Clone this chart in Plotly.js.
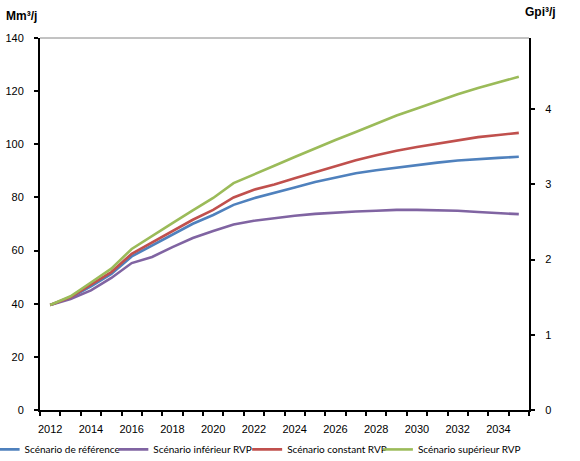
<!DOCTYPE html>
<html>
<head>
<meta charset="utf-8">
<script src="https://cdn.plot.ly/plotly-3.0.1.min.js"></script>
<style>html,body{margin:0;padding:0;background:#fff;}#chart{width:580px;height:461px;}</style>
</head>
<body>
<div id="chart"></div>
<script>
const years = [2012,2013,2014,2015,2016,2017,2018,2019,2020,2021,2022,2023,2024,2025,2026,2027,2028,2029,2030,2031,2032,2033,2034,2035];
const reference = [39.5,42.3,46.5,51.2,57.8,61.8,66.0,70.1,73.4,77.2,79.7,81.6,83.7,85.8,87.5,89.1,90.2,91.2,92.3,93.1,93.9,94.5,94.9,95.3];
const inferior  = [39.5,41.8,45.0,49.7,55.3,57.6,61.3,64.7,67.4,69.8,71.2,72.2,73.1,73.8,74.3,74.7,75.0,75.3,75.3,75.2,75.0,74.5,74.1,73.7];
const constant  = [39.5,42.5,47.2,51.9,58.8,63.1,67.2,71.6,75.3,80.0,82.9,84.9,87.2,89.5,91.6,94.0,95.9,97.6,99.0,100.3,101.5,102.7,103.5,104.3];
const superior  = [39.5,42.8,48.0,53.2,60.6,65.3,70.3,75.1,79.8,85.4,88.8,91.9,95.2,98.5,101.6,104.6,107.8,110.8,113.5,116.2,118.8,121.2,123.4,125.4];
const seriesNames = ["Scénario de référence","Scénario inférieur RVP","Scénario constant RVP","Scénario supérieur RVP"];
const yTicks = [0,20,40,60,80,100,120,140];
const y2Ticks = [0,1,2,3,4];
const xLabels = [2012,2014,2016,2018,2020,2022,2024,2026,2028,2030,2032,2034];
const m3ToFt3 = 35.3147/1000;

const colors = ["#4F81BD","#8064A2","#C0504D","#9BBB59"];
const legendIds = ['legend','legend2','legend3','legend4'];
const data = [reference, inferior, constant, superior].map((vals,i)=>({
  x: years, y: vals, type:'scatter', mode:'lines', name: seriesNames[i], legend: legendIds[i],
  line:{color:colors[i], width:2.6}, hoverinfo:'skip'
}));
// helper empty traces so the secondary axes are drawn
data.push({x:[], y:[], yaxis:'y2', type:'scatter', showlegend:false, hoverinfo:'skip'});
data.push({x:[], y:[], xaxis:'x2', type:'scatter', showlegend:false, hoverinfo:'skip'});

const fam = '"Liberation Sans", Arial, sans-serif';
const font = {family:fam, size:11, color:'#000'};
function leg(x){
  return {orientation:'h', x:x, xanchor:'left', y:-0.067, yanchor:'top',
    font:{family:'Lato, "Liberation Sans", sans-serif', size:10, color:'#000'},
    itemwidth:30, bgcolor:'rgba(0,0,0,0)', borderwidth:0};
}
const layout = {
  width:580, height:461,
  margin:{l:39.5, r:50.7, t:38, b:50.5, pad:0, autoexpand:false},
  paper_bgcolor:'#fff', plot_bgcolor:'#fff',
  font: font,
  showlegend:true,
  legend: leg(-0.1133), legend2: leg(0.150), legend3: leg(0.4236), legend4: leg(0.691),
  xaxis:{range:[2011.5,2035.5], tickmode:'array', tickvals:xLabels, ticktext:xLabels.map(String),
    ticks:'', showgrid:false, zeroline:false, showline:true, linecolor:'#000', linewidth:2,
    tickfont:font, ticklabelstandoff:8},
  xaxis2:{overlaying:'x', range:[2011.5,2035.5], tickmode:'linear', tick0:2011.5, dtick:1,
    ticks:'outside', ticklen:5, tickwidth:2, tickcolor:'#000', showticklabels:false, showgrid:false,
    zeroline:false, showline:false, side:'bottom', anchor:'y'},
  yaxis:{range:[0,140], tickmode:'array', tickvals:yTicks, ticks:'outside', ticklen:4, tickwidth:2,
    tickcolor:'#000', showgrid:false, zeroline:false, showline:true, linecolor:'#000', linewidth:2,
    tickfont:font, ticklabelstandoff:8},
  yaxis2:{overlaying:'y', side:'right', range:[0,140*m3ToFt3], tickmode:'array', tickvals:y2Ticks,
    ticks:'outside', ticklen:4, tickwidth:2, tickcolor:'#000', showgrid:false, zeroline:false,
    showline:true, linecolor:'#000', linewidth:2, tickfont:font, ticklabelstandoff:8},
  shapes:[{type:'line', xref:'paper', yref:'paper', x0:0, x1:1, y0:1, y1:1, line:{color:'#868686', width:1}}],
  annotations:[
    {text:'<b>Mm³/j</b>', xref:'paper', yref:'paper', x:-0.0745, y:1.06, xanchor:'left', yanchor:'middle', showarrow:false,
     font:{family:fam, size:12, color:'#000'}},
    {text:'<b>Gpi³/j</b>', xref:'paper', yref:'paper', x:0.988, y:1.0706, xanchor:'left', yanchor:'middle', showarrow:false,
     font:{family:fam, size:12, color:'#000'}}
  ]
};
Plotly.newPlot('chart', data, layout, {staticPlot:true, displayModeBar:false});
</script>
</body>
</html>
